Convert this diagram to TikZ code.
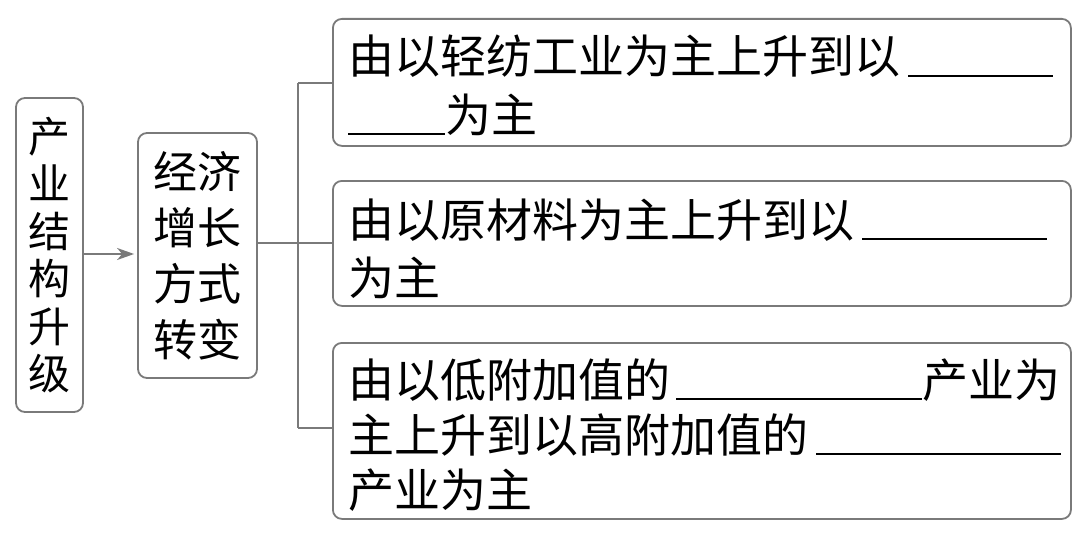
\documentclass[tikz,border=0pt]{standalone}
\usepackage{fontspec}
\setmainfont{Noto Sans CJK SC}
\usetikzlibrary{arrows.meta}
\definecolor{linegray}{HTML}{7A7A7A}
\newcommand{\blank}[1]{\rule[-3pt]{#1pt}{1.8pt}}
\begin{document}
\begin{tikzpicture}[x=1pt,y=-1pt,
  box/.style={draw=linegray,line width=1.8pt,rounded corners=9pt,inner sep=0pt},
  conn/.style={draw=linegray,line width=1.8pt},
  txt/.style={anchor=base west,inner sep=0pt,font=\fontsize{46}{46}\selectfont}]
\useasboundingbox (0,0) rectangle (1080,535);
% left boxes
\node[box,minimum width=67pt,minimum height=314pt,align=center,
  font=\fontsize{42}{47.5}\selectfont] (a) at (49.5,255) {产\\业\\结\\构\\升\\级};
\node[box,minimum width=119pt,minimum height=245pt,align=center,
  font=\fontsize{44}{56}\selectfont] (b) at (197.5,255.5) {经济\\增长\\方式\\转变};
% right boxes
\node[box,anchor=north west,minimum width=738pt,minimum height=127pt] (r1) at (332,18) {};
\node[box,anchor=north west,minimum width=738pt,minimum height=125pt] (r2) at (332,180) {};
\node[box,anchor=north west,minimum width=738pt,minimum height=176pt] (r3) at (332,342) {};
% texts
\node[txt] (t11) at (348,74) {由以轻纺工业为主上升到以\hspace{8pt}\blank{145}};
\node[txt] (t12) at (348,132) {\blank{97}为主};
\node[txt] (t21) at (348,237) {由以原材料为主上升到以\hspace{8pt}\blank{185}};
\node[txt] (t22) at (348,295) {为主};
\node[txt] (t31) at (348,397) {由以低附加值的\hspace{6pt}\blank{246}产业为};
\node[txt] (t32) at (348,452) {主上升到以高附加值的\hspace{8pt}\blank{245}};
\node[txt] (t33) at (348,507) {产业为主};
% connectors
\draw[conn,-{Stealth[length=17pt,width=12pt,inset=5pt]},shorten >=3pt] (a.east |- 0,254) -- (b.west |- 0,254);
\coordinate (j) at (298,243);
\draw[conn] (b.east |- j) -- (j);
\draw[conn] (298,83) -- (298,428);
\draw[conn] (298,83) -- (r1.west |- 0,83);
\draw[conn] (j) -- (r2.west |- j);
\draw[conn] (298,428) -- (r3.west |- 0,428);
\end{tikzpicture}
\end{document}
